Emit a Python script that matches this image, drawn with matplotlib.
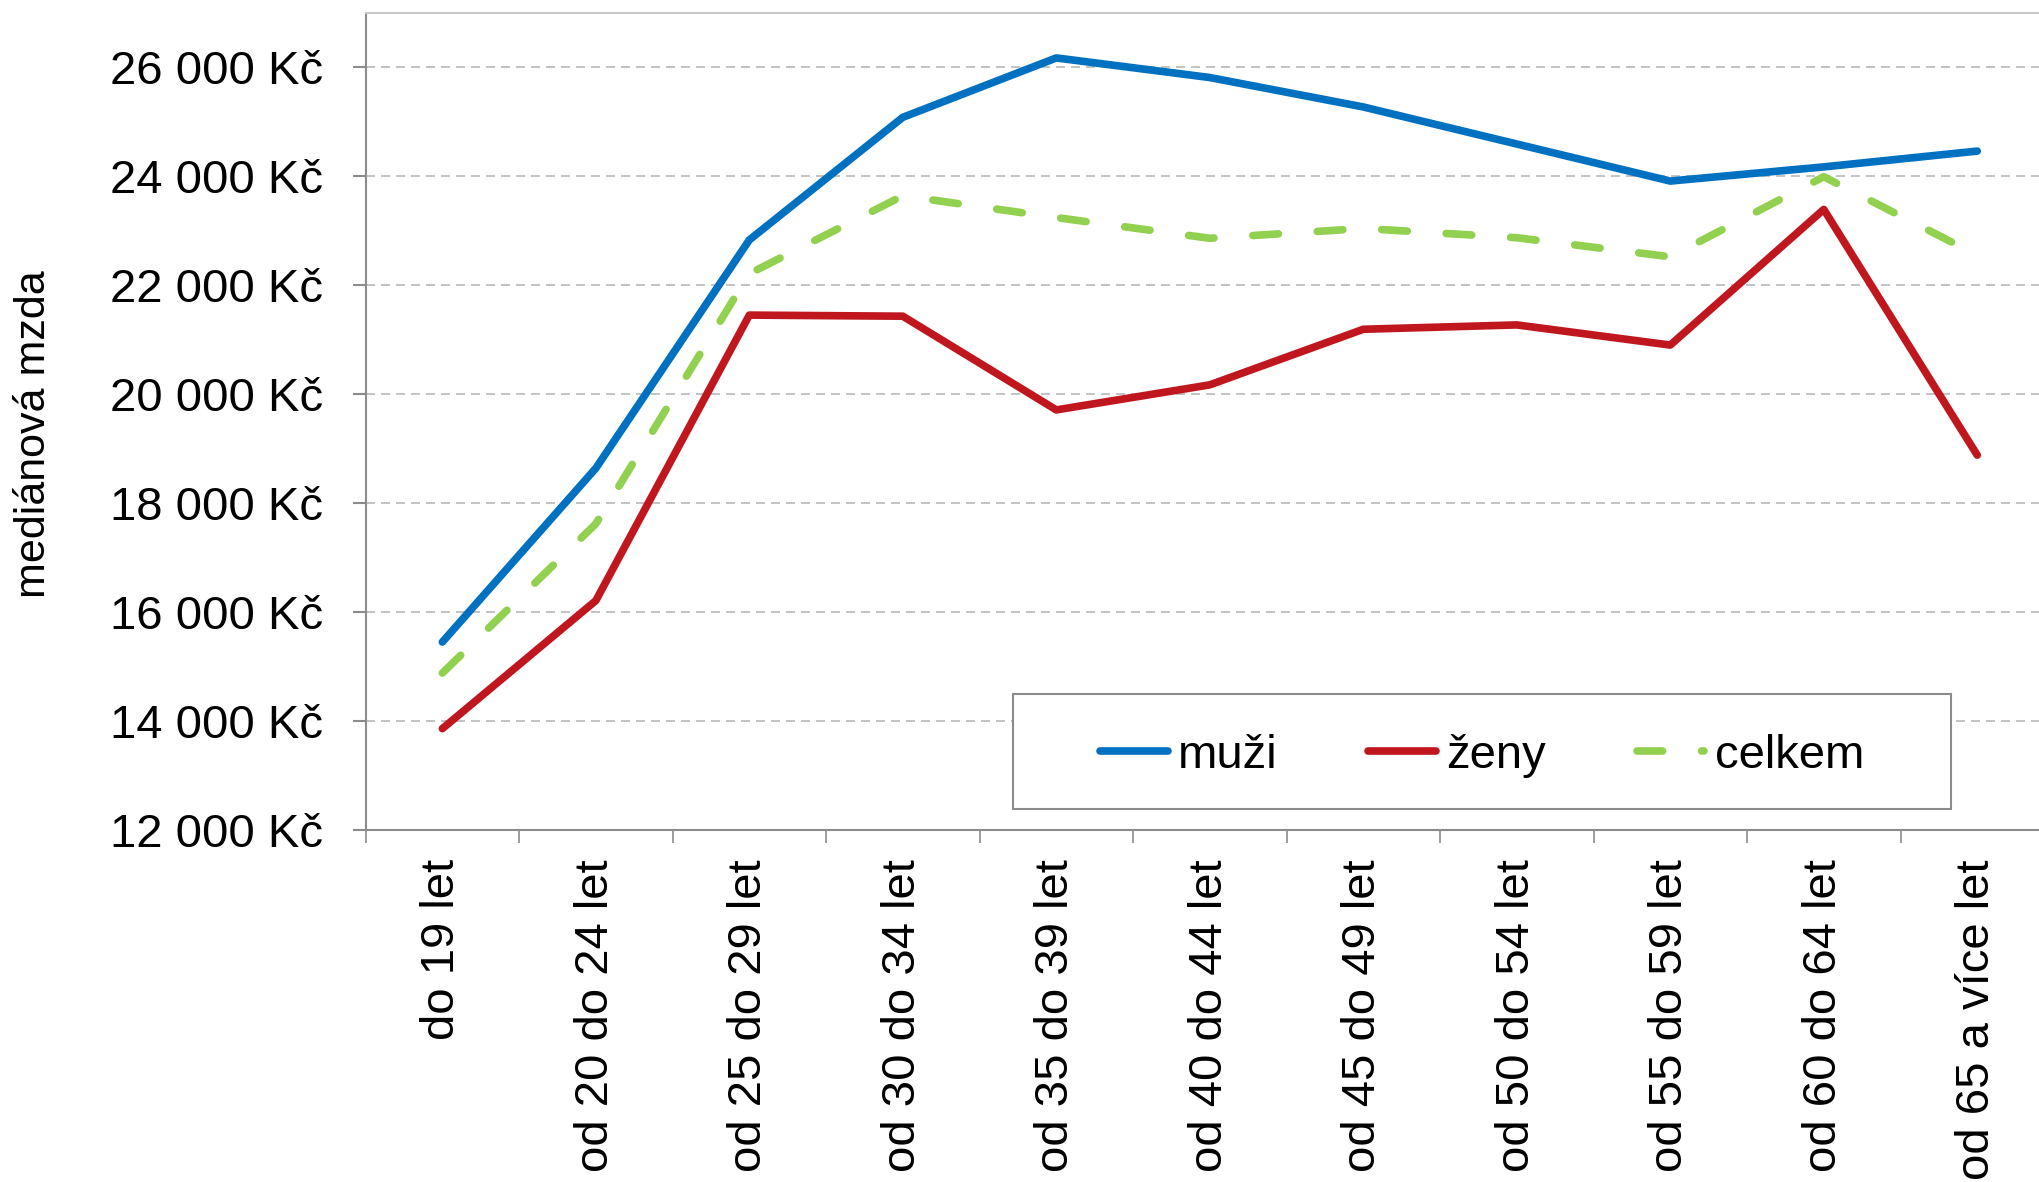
import matplotlib
matplotlib.use("Agg")
import matplotlib.pyplot as plt
from matplotlib.patches import Rectangle

categories = ["do 19 let", "od 20 do 24 let", "od 25 do 29 let", "od 30 do 34 let",
              "od 35 do 39 let", "od 40 do 44 let", "od 45 do 49 let", "od 50 do 54 let",
              "od 55 do 59 let", "od 60 do 64 let", "od 65 a více let"]
muzi = [15450, 18640, 22830, 25080, 26170, 25810, 25270, 24590, 23910, 24170, 24460]
zeny = [13860, 16210, 21450, 21430, 19710, 20170, 21190, 21270, 20900, 23390, 18880]
celkem = [14880, 17620, 22210, 23640, 23240, 22860, 23040, 22870, 22520, 23990, 22550]
series_names = ["muži", "ženy", "celkem"]
yticks = [12000, 14000, 16000, 18000, 20000, 22000, 24000, 26000]
ytick_labels = ["12 000 Kč", "14 000 Kč", "16 000 Kč", "18 000 Kč", "20 000 Kč",
                "22 000 Kč", "24 000 Kč", "26 000 Kč"]
ylabel = "mediánová mzda"

plt.rcParams['font.family'] = ['Liberation Sans', 'DejaVu Sans']

W, H = 2040, 1182
fig = plt.figure(figsize=(W / 100, H / 100), dpi=100)
ax_left, ax_right, ax_top, ax_bottom = 365.6, 2054, 12.7, 830
ax = fig.add_axes([ax_left / W, 1 - ax_bottom / H, (ax_right - ax_left) / W, (ax_bottom - ax_top) / H])

x = list(range(len(categories)))
lw = 5.5
ax.plot(x, muzi, color='#0070C0', lw=lw, solid_capstyle='round', solid_joinstyle='round',
        label=series_names[0], zorder=4)
ax.plot(x, zeny, color='#C0171F', lw=lw, solid_capstyle='round', solid_joinstyle='round',
        label=series_names[1], zorder=4)
ax.plot(x, celkem, color='#92D050', lw=lw, dashes=(3.35, 5.1), dash_capstyle='round',
        dash_joinstyle='round', label=series_names[2], zorder=3)

ax.set_xlim(-0.5, len(categories) - 0.5)
ax.set_ylim(12000, 27000)

ax.set_yticks(yticks)
ax.set_yticklabels(ytick_labels)
ax.tick_params(axis='y', which='major', direction='out', length=9.4, width=1.5,
               color='#8c8c8c', pad=21, labelsize=34)
ax.yaxis.grid(True, color='#c4c4c4', lw=1.44, linestyle=(0, (4.5, 3.0)))
ax.set_axisbelow(True)

ax.set_xticks([i - 0.5 for i in range(len(categories) + 1)])
ax.set_xticklabels([])
ax.set_xticks(x, minor=True)
ax.set_xticklabels(categories, minor=True, rotation=90, ha='center', va='top')
ax.tick_params(axis='x', which='major', direction='out', length=9.4, width=1.2, color='#8c8c8c')
ax.tick_params(axis='x', which='minor', length=0, pad=21, labelsize=34)

for s in ['left', 'bottom']:
    ax.spines[s].set_color('#8c8c8c')
    ax.spines[s].set_linewidth(1.5)
ax.spines['top'].set_color('#c8c8c8')
ax.spines['top'].set_linewidth(1.5)
ax.spines['right'].set_color('#c8c8c8')

ax.set_ylabel(ylabel, fontsize=31, va='center')
ax.yaxis.set_label_coords(-0.1964, 0.484)

# legend box
lx0, lx1, ly0, ly1 = 1013, 1951, 694, 809
rect = Rectangle((lx0 / W, 1 - ly1 / H), (lx1 - lx0) / W, (ly1 - ly0) / H,
                 transform=fig.transFigure, facecolor='white', edgecolor='#8c8c8c',
                 lw=1.5, zorder=5)
fig.patches.append(rect)
leg = fig.legend(loc='center', bbox_to_anchor=((lx0 + lx1) / 2 / W, 1 - ((ly0 + ly1) / 2 + 4) / H),
                 ncol=3, frameon=False, fontsize=34, handlelength=1.43,
                 handletextpad=0.22, columnspacing=1.92, borderpad=0)
leg.set_zorder(6)

fig.savefig("out.png", dpi=100)
